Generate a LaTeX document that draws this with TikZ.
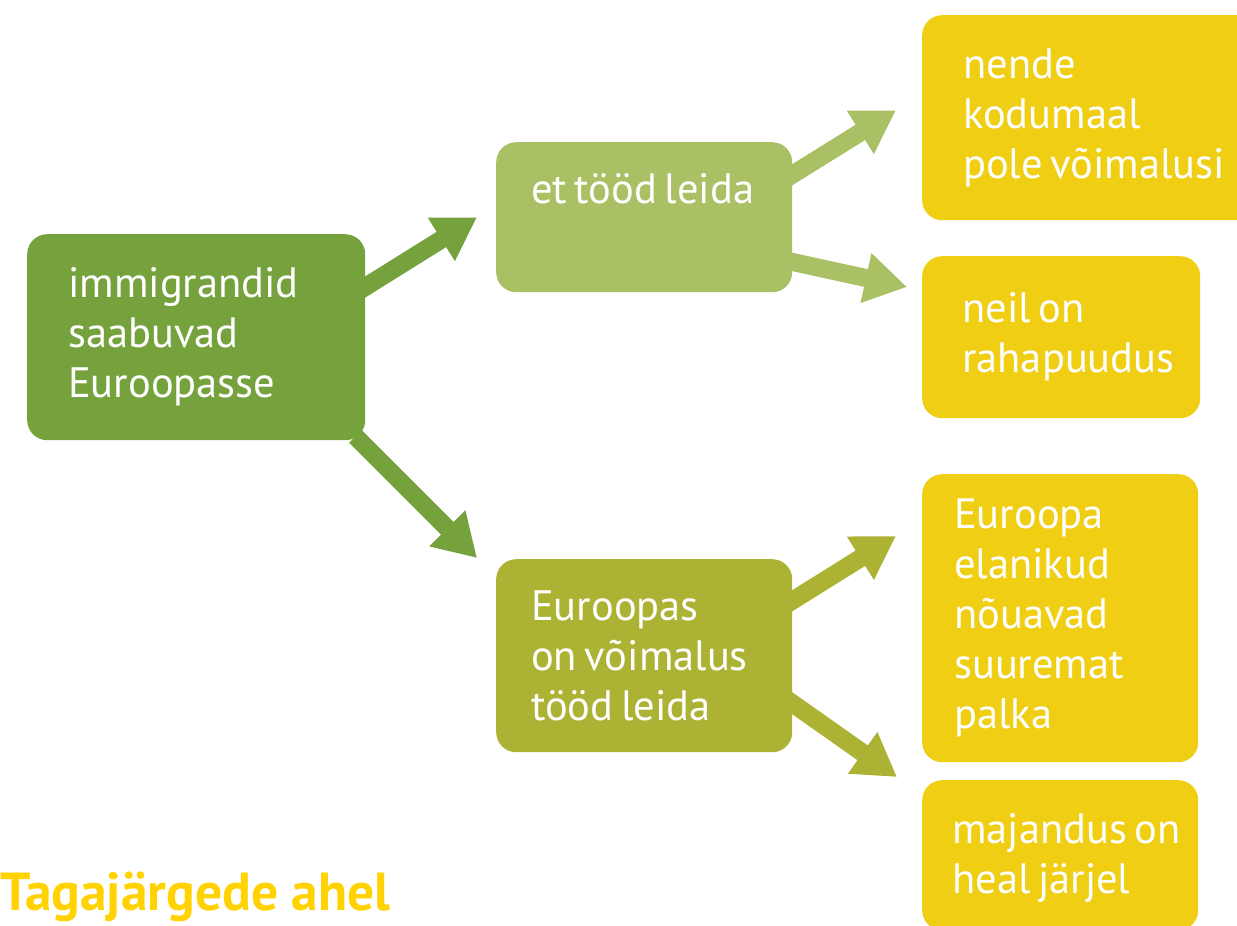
\documentclass[tikz,border=0pt]{standalone}
\usepackage{fontspec}
\setmainfont{PT Sans}
\usetikzlibrary{arrows.meta,calc}
\definecolor{cA}{HTML}{76A23D}
\definecolor{cB}{HTML}{A9C064}
\definecolor{cC}{HTML}{ACB234}
\definecolor{cY}{HTML}{F0CE14}
\definecolor{cT}{HTML}{FFD200}
\newcommand{\boxfont}{\fontsize{42.5}{50}\selectfont}
\newcommand{\bxtext}[2]{\leftskip=#1\relax\spaceskip=0.18em\relax #2\par}
\tikzset{
  box/.style={rectangle, rounded corners=20pt, anchor=north west, align=left,
    text=white, inner xsep=0pt, inner ysep=0pt, font=\boxfont},
  arr/.style={line width=18pt, -{Triangle[length=42pt,width=48pt]}},
}
\begin{document}
\begin{tikzpicture}[x=1pt,y=-1pt]
\useasboundingbox (0,0) rectangle (1237,926);
\clip (0,0) rectangle (1237,926);
\fill[white] (0,0) rectangle (1237,926);
\node[box, fill=cA, minimum height=206pt, text width=338pt] (A) at (27,234)
  {\bxtext{41pt}{immigrandid\\saabuvad\\Euroopasse}};
\node[box, fill=cB, minimum height=150pt, text width=296pt,
  text height=30pt, text depth=58pt] (B) at (496,142) {\bxtext{35pt}{et tööd leida}};
\node[box, fill=cC, minimum height=193pt, text width=296pt] (C) at (496,559)
  {\bxtext{35pt}{Euroopas\\on võimalus\\tööd leida}};
\node[box, fill=cY, minimum height=205pt, text width=360pt] (D) at (922,15)
  {\bxtext{41pt}{nende\\kodumaal\\pole võimalusi}};
\node[box, fill=cY, minimum height=162pt, text width=278pt] (E) at (922,256)
  {\bxtext{40pt}{neil on\\rahapuudus}};
\node[box, fill=cY, minimum height=288pt, text width=276pt] (F) at (922,474)
  {\bxtext{32pt}{Euroopa\\elanikud\\nõuavad\\suuremat\\palka}};
\node[box, fill=cY, minimum height=150pt, text width=276pt,
  text height=30pt, text depth=54pt] (G) at (922,780)
  {\bxtext{30pt}{majandus on\\heal järjel}};
\node[anchor=base west, inner sep=0pt, text=cT, font=\fontsize{53.5}{60}\selectfont\bfseries] (T) at (0,910)
  {Tagajärgede ahel};
\draw[arr, cA] ($(A.north east)+(-5,56)$) -- ($(B.west)+(-19,0)$);
\draw[arr, cA] ($(A.south east)+(-10,-4)$) -- ($(C.north west)+(-19,-1)$);
\draw[arr, cB] ($(B.north east)+(-7,37)$) -- ($(D.west)+(-26,-7.5)$);
\draw[arr, cB] ($(B.south east)+(-7,-32)$) -- ($(E.north west)+(-15,31)$);
\draw[arr, cC] ($(C.north east)+(-7,46)$) -- ($(F.north west)+(-26,62)$);
\draw[arr, cC] ($(C.south east)+(-7,-54)$) -- ($(G.north west)+(-25,-3)$);
\end{tikzpicture}
\end{document}
